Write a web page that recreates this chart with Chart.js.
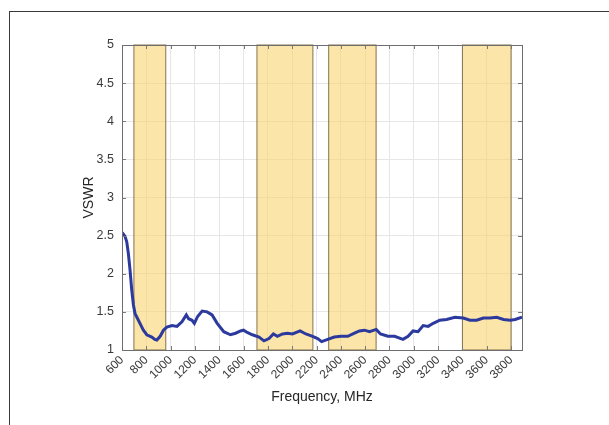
<!DOCTYPE html>
<html>
<head>
<meta charset="utf-8">
<script src="https://cdn.jsdelivr.net/npm/chart.js@4"></script>
<style>
  html, body { margin: 0; padding: 0; background: #fff; }
  #wrap { position: relative; width: 609px; height: 425px; }
  #frame {
    position: absolute; left: 9px; top: 11px; right: 0; bottom: 0;
    border-top: 1.5px solid #3a3a3a; border-left: 1.5px solid #3a3a3a;
  }
  #vswrChart { position: absolute; left: 0; top: 0; }
</style>
</head>
<body>
<div id="wrap">
  <div id="frame"></div>
  <canvas id="vswrChart" width="609" height="425"></canvas>
</div>
<script>
// data
const freqMHz = [600, 612, 625, 639, 652, 666, 680, 694, 707, 735, 760, 776, 804, 845, 870, 887,
  914, 941, 969, 1011, 1052, 1093, 1129, 1148, 1176, 1195, 1222, 1259, 1300, 1341, 1383, 1437,
  1492, 1534, 1575, 1600, 1630, 1672, 1727, 1768, 1809, 1845, 1878, 1920, 1961, 2002, 2065, 2112,
  2168, 2209, 2242, 2292, 2346, 2402, 2457, 2512, 2553, 2594, 2636, 2691, 2726, 2787, 2842, 2911,
  2953, 2994, 3035, 3077, 3118, 3160, 3214, 3269, 3338, 3407, 3462, 3517, 3572, 3627, 3682, 3738,
  3793, 3834, 3890];
const vswr = [2.54, 2.52, 2.49, 2.42, 2.27, 2.05, 1.79, 1.59, 1.48, 1.39, 1.31, 1.26, 1.20, 1.17, 1.14, 1.13,
  1.18, 1.26, 1.30, 1.32, 1.31, 1.37, 1.46, 1.41, 1.39, 1.35, 1.44, 1.51, 1.50, 1.46, 1.35, 1.24,
  1.20, 1.22, 1.25, 1.26, 1.23, 1.20, 1.17, 1.12, 1.15, 1.21, 1.18, 1.21, 1.22, 1.21, 1.25, 1.21,
  1.18, 1.15, 1.11, 1.14, 1.17, 1.18, 1.18, 1.22, 1.25, 1.26, 1.24, 1.27, 1.21, 1.18, 1.18, 1.14,
  1.18, 1.25, 1.24, 1.32, 1.31, 1.35, 1.39, 1.40, 1.43, 1.42, 1.39, 1.39, 1.42, 1.42, 1.43, 1.40,
  1.39, 1.40, 1.43];

// highlighted frequency bands (MHz)
const bandStart = [698, 1710, 2300, 3400];
const bandEnd = [960, 2170, 2690, 3800];

const xTicks = [600, 800, 1000, 1200, 1400, 1600, 1800, 2000, 2200, 2400, 2600, 2800, 3000, 3200, 3400, 3600, 3800];
const yTicks = [1, 1.5, 2, 2.5, 3, 3.5, 4, 4.5, 5];

const FONT = "'Liberation Sans', Arial, Helvetica, sans-serif";

// bands behind the curve, axes box + inner tick marks on top
const bandsPlugin = {
  id: 'bands',
  beforeDatasetsDraw(chart) {
    const { ctx, chartArea, scales } = chart;
    ctx.save();
    bandStart.forEach((s, i) => {
      const x0 = scales.x.getPixelForValue(s);
      const x1 = scales.x.getPixelForValue(bandEnd[i]);
      ctx.fillStyle = 'rgba(250, 212, 110, 0.6)';
      ctx.fillRect(x0, chartArea.top, x1 - x0, chartArea.bottom - chartArea.top);
      ctx.strokeStyle = '#85734f';
      ctx.lineWidth = 1;
      ctx.strokeRect(x0, chartArea.top, x1 - x0, chartArea.bottom - chartArea.top);
    });
    ctx.restore();
  },
  afterDatasetsDraw(chart) {
    const { ctx, chartArea: a, scales } = chart;
    ctx.save();
    ctx.strokeStyle = '#7a7a7a';
    ctx.lineWidth = 1;
    ctx.beginPath();
    xTicks.forEach(v => {
      const px = Math.round(scales.x.getPixelForValue(v)) + 0.5;
      ctx.moveTo(px, a.bottom); ctx.lineTo(px, a.bottom - 4);
      ctx.moveTo(px, a.top); ctx.lineTo(px, a.top + 4);
    });
    yTicks.forEach(v => {
      const py = Math.round(scales.y.getPixelForValue(v)) + 0.5;
      ctx.moveTo(a.left, py); ctx.lineTo(a.left + 4, py);
      ctx.moveTo(a.right, py); ctx.lineTo(a.right - 4, py);
    });
    ctx.stroke();
    ctx.strokeStyle = '#6e6e6e';
    ctx.strokeRect(Math.round(a.left) + 0.5, Math.round(a.top) + 0.5,
      Math.round(a.right - a.left), Math.round(a.bottom - a.top));
    ctx.restore();
  }
};

new Chart(document.getElementById('vswrChart'), {
  type: 'line',
  data: {
    datasets: [{
      label: 'VSWR',
      data: freqMHz.map((f, i) => ({ x: f, y: vswr[i] })),
      borderColor: '#2c3a9e',
      borderWidth: 3,
      pointRadius: 0,
      tension: 0,
      fill: false
    }]
  },
  options: {
    responsive: false,
    animation: false,
    layout: { padding: { left: 77, right: 87, top: 45, bottom: 15 } },
    plugins: { legend: { display: false }, tooltip: { enabled: false } },
    scales: {
      x: {
        type: 'linear',
        min: 600,
        max: 3890,
        afterBuildTicks: (axis) => { axis.ticks = xTicks.map(v => ({ value: v })); },
        afterFit: (axis) => { axis.height = 60; },
        ticks: {
          minRotation: 45, maxRotation: 45, autoSkip: false, padding: 3,
          color: '#3a3a3a', font: { family: FONT, size: 12 },
          callback: (v) => String(v)
        },
        grid: { color: '#e6e6e6', drawTicks: false },
        border: { display: false },
        title: { display: true, text: 'Frequency, MHz', color: '#262626', font: { family: FONT, size: 14 } }
      },
      y: {
        type: 'linear',
        min: 1,
        max: 5,
        afterBuildTicks: (axis) => { axis.ticks = yTicks.map(v => ({ value: v })); },
        afterFit: (axis) => { axis.width = 45; },
        ticks: {
          padding: 8, color: '#3a3a3a', font: { family: FONT, size: 12.5 },
          callback: (v) => String(v)
        },
        grid: { color: '#e6e6e6', drawTicks: false },
        border: { display: false },
        title: { display: true, text: 'VSWR', color: '#262626', font: { family: FONT, size: 14 } }
      }
    }
  },
  plugins: [bandsPlugin]
});
</script>
</body>
</html>
